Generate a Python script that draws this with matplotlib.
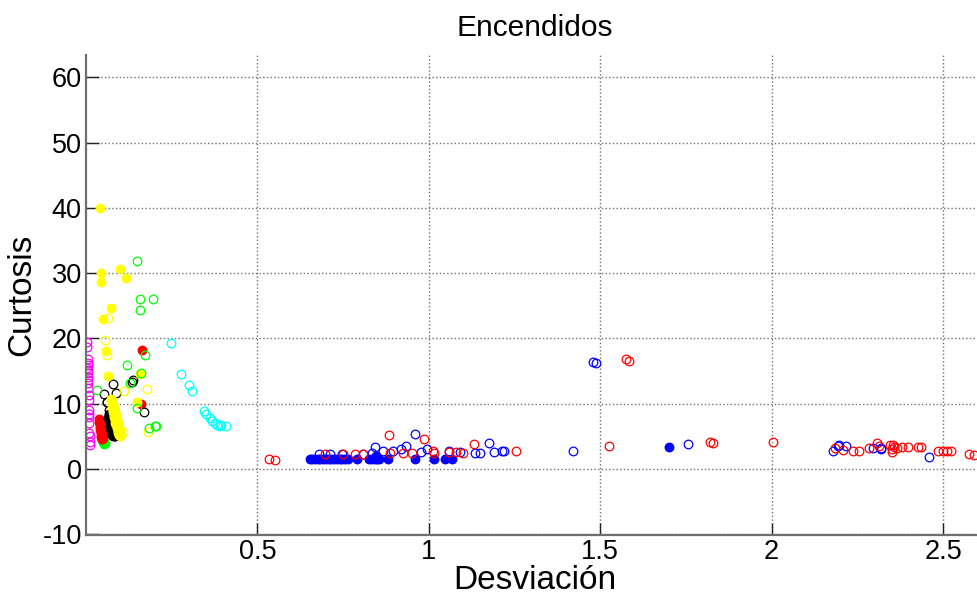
import matplotlib
matplotlib.use("Agg")
import matplotlib.pyplot as plt

plt.rcParams['font.family'] = ['Liberation Sans', 'DejaVu Sans']

# ---------------- data (Desviación, Curtosis) ----------------
magenta_open_x = [0.004, 0.004, 0.005, 0.006, 0.005, 0.004, 0.006, 0.005, 0.006, 0.005, 0.007,
                  0.006, 0.008, 0.009, 0.008, 0.009, 0.008, 0.009, 0.010, 0.011, 0.011, 0.012]
magenta_open_y = [19.4, 18.7, 16.9, 16.2, 15.9, 15.4, 15.2, 14.7, 14.1, 13.6, 13.1,
                  12.4, 11.3, 10.6, 9.0, 8.5, 7.9, 7.1, 5.5, 5.0, 4.2, 3.7]

green_fill_x = [0.046, 0.048, 0.050, 0.052, 0.054]
green_fill_y = [4.5, 4.4, 4.2, 3.9, 4.0]

red_fill_x = [0.038, 0.039, 0.040, 0.041, 0.042, 0.043, 0.044, 0.045, 0.046, 0.040, 0.042,
              0.044, 0.046, 0.048, 0.050, 0.043, 0.047, 0.049, 0.051, 0.048, 0.164, 0.160]
red_fill_y = [7.6, 7.2, 6.8, 6.4, 6.0, 5.6, 5.2, 4.9, 4.6, 7.5, 7.0,
              6.5, 6.0, 5.5, 5.0, 7.3, 6.2, 5.2, 4.7, 4.6, 18.3, 9.9]

black_fill_x = [0.067, 0.068, 0.069, 0.070, 0.071, 0.072, 0.073, 0.075, 0.077, 0.079, 0.074,
                0.076, 0.078, 0.080, 0.082, 0.084, 0.072, 0.078, 0.081]
black_fill_y = [8.3, 7.8, 7.4, 7.0, 6.6, 6.2, 5.8, 5.5, 5.2, 5.0, 7.2,
                6.8, 6.3, 5.9, 5.5, 5.1, 7.6, 5.8, 6.2]

black_open_x = [0.079, 0.052, 0.087, 0.138, 0.133, 0.062, 0.168, 0.066, 0.067, 0.065, 0.060, 0.086]
black_open_y = [13.0, 11.5, 11.7, 13.7, 13.4, 10.3, 8.7, 8.5, 9.0, 7.8, 10.3, 5.1]

yellow_fill_x = [0.040, 0.043, 0.043, 0.099, 0.116, 0.074, 0.050, 0.057, 0.064, 0.157, 0.150,
                 0.072, 0.074, 0.075, 0.077, 0.078, 0.080, 0.081, 0.083, 0.084, 0.086, 0.088,
                 0.090, 0.092, 0.094, 0.096, 0.098, 0.080, 0.082, 0.085, 0.087, 0.090, 0.093,
                 0.095, 0.098, 0.100, 0.076, 0.079, 0.089, 0.097, 0.102]
yellow_fill_y = [40.0, 30.0, 28.6, 30.7, 29.2, 24.6, 22.9, 18.0, 14.2, 14.5, 10.3,
                 10.8, 10.3, 9.9, 9.5, 9.1, 8.7, 8.3, 7.9, 7.5, 7.1, 6.7,
                 6.3, 5.9, 5.5, 5.2, 5.0, 10.0, 9.4, 8.9, 8.2, 7.6, 7.0,
                 6.5, 6.0, 5.6, 10.6, 9.2, 7.4, 5.4, 5.2]

yellow_open_x = [0.065, 0.055, 0.062, 0.110, 0.179, 0.181, 0.108]
yellow_open_y = [23.2, 19.7, 17.5, 12.0, 12.2, 5.6, 5.6]

green_open_x = [0.150, 0.158, 0.195, 0.157, 0.171, 0.120, 0.033, 0.128, 0.159, 0.149, 0.185,
                0.205, 0.202]
green_open_y = [31.8, 26.1, 26.1, 24.3, 17.4, 16.0, 12.1, 13.1, 14.7, 9.3, 6.3,
                6.6, 6.6]

cyan_open_x = [0.247, 0.276, 0.300, 0.308, 0.344, 0.349, 0.361, 0.368, 0.375, 0.382, 0.390,
               0.407, 0.395]
cyan_open_y = [19.3, 14.5, 12.8, 11.9, 8.9, 8.4, 7.8, 7.4, 7.0, 6.7, 6.6,
               6.6, 6.8]

blue_fill_x = [0.652, 0.660, 0.668, 0.676, 0.684, 0.692, 0.700, 0.708, 0.716, 0.724, 0.732,
               0.740, 0.748, 0.756, 0.764, 0.790, 0.825, 0.834, 0.842, 0.850, 0.854, 0.845,
               0.881, 0.959, 1.016, 1.048, 1.069, 1.702]
blue_fill_y = [1.6, 1.6, 1.6, 1.6, 1.6, 1.6, 1.6, 1.6, 1.6, 1.6, 1.6,
               1.6, 1.6, 1.6, 1.6, 1.6, 1.6, 1.6, 1.6, 1.6, 1.6, 2.0,
               1.6, 1.6, 1.6, 1.6, 1.6, 3.4]

blue_open_x = [0.681, 0.713, 0.747, 0.808, 0.834, 0.842, 0.866, 0.896, 0.920, 0.934, 0.959,
               0.978, 0.995, 1.058, 1.092, 1.136, 1.148, 1.176, 1.189, 1.213, 1.220, 1.422,
               1.478, 1.487, 1.756, 2.178, 2.193, 2.197, 2.216, 2.297, 2.319, 2.320, 2.458]
blue_open_y = [2.3, 2.3, 2.3, 2.3, 2.5, 3.4, 2.8, 2.8, 3.0, 3.5, 5.3,
               2.6, 3.0, 2.8, 2.6, 2.5, 2.5, 4.0, 2.6, 2.7, 2.8, 2.8,
               16.4, 16.2, 3.9, 2.8, 3.5, 3.7, 3.5, 3.2, 3.2, 3.0, 1.9]

red_open_x = [0.535, 0.550, 0.698, 0.750, 0.786, 0.808, 0.883, 0.886, 0.925, 0.951, 0.987,
              1.012, 1.016, 1.060, 1.078, 1.100, 1.133, 1.254, 1.527, 1.574, 1.585, 1.821,
              1.828, 2.005, 2.185, 2.209, 2.237, 2.255, 2.285, 2.308, 2.312, 2.345, 2.355,
              2.350, 2.358, 2.352, 2.365, 2.379, 2.399, 2.426, 2.437, 2.484, 2.500, 2.513,
              2.523, 2.576, 2.590]
red_open_y = [1.5, 1.4, 2.3, 2.3, 2.3, 2.3, 5.2, 2.5, 2.5, 2.5, 4.6,
              2.8, 2.4, 2.6, 2.6, 2.4, 3.8, 2.8, 3.5, 16.8, 16.5, 4.2,
              4.0, 4.1, 3.2, 2.9, 2.8, 2.8, 3.2, 4.0, 3.6, 3.7, 3.7,
              3.0, 3.4, 2.6, 3.2, 3.4, 3.4, 3.3, 3.4, 2.8, 2.7, 2.7,
              2.7, 2.3, 2.1]

x_ticks = [0.5, 1, 1.5, 2, 2.5]
x_tick_labels = ['0.5', '1', '1.5', '2', '2.5']
y_ticks = [-10, 0, 10, 20, 30, 40, 50, 60]
y_tick_labels = ['-10', '0', '10', '20', '30', '40', '50', '60']

# ---------------- figure ----------------
W, H = 977, 607
fig = plt.figure(figsize=(W / 100, H / 100), dpi=100)
ax = fig.add_axes([86 / W, (H - 535) / H, (984 - 86) / W, (535 - 55) / H])

ms = 6.2
mew = 0.9

def op(x, y, c):
    ax.plot(x, y, 'o', ls='none', ms=ms, mfc='none', mec=c, mew=mew)

def fl(x, y, c):
    ax.plot(x, y, 'o', ls='none', ms=ms, mfc=c, mec=c, mew=mew)

op(magenta_open_x, magenta_open_y, '#ff00ff')
fl(green_fill_x, green_fill_y, '#00ff00')
fl(red_fill_x, red_fill_y, '#ff0000')
fl(black_fill_x, black_fill_y, '#000000')
op(black_open_x, black_open_y, '#000000')
fl(yellow_fill_x, yellow_fill_y, '#ffff00')
op(yellow_open_x, yellow_open_y, '#ffff00')
op(green_open_x, green_open_y, '#00ff00')
op(cyan_open_x, cyan_open_y, '#00ffff')
fl(blue_fill_x, blue_fill_y, '#0000ff')
op(blue_open_x, blue_open_y, '#0000ff')
op(red_open_x, red_open_y, '#ff0000')

ax.set_xlim(0, (984 - 85.5) / 343)
ax.set_ylim(-10.1, 63.4)
ax.set_xticks(x_ticks)
ax.set_xticklabels(x_tick_labels)
ax.set_yticks(y_ticks)
ax.set_yticklabels(y_tick_labels)

ax.grid(True, color='#707070', ls=':', lw=1.0)
ax.set_axisbelow(True)
ax.tick_params(direction='in', length=9, width=1.0, color='#222222',
               labelsize=19.5, pad=3)
for s in ['top', 'right']:
    ax.spines[s].set_visible(False)
for s in ['left', 'bottom']:
    ax.spines[s].set_color('#707070')
    ax.spines[s].set_linewidth(1.6)

ax.set_title('Encendidos', fontsize=21.5, pad=14)
ax.set_xlabel('Desviación', fontsize=24, labelpad=0)
ax.set_ylabel('Curtosis', fontsize=24, labelpad=4)

fig.savefig('out.png', dpi=100)
